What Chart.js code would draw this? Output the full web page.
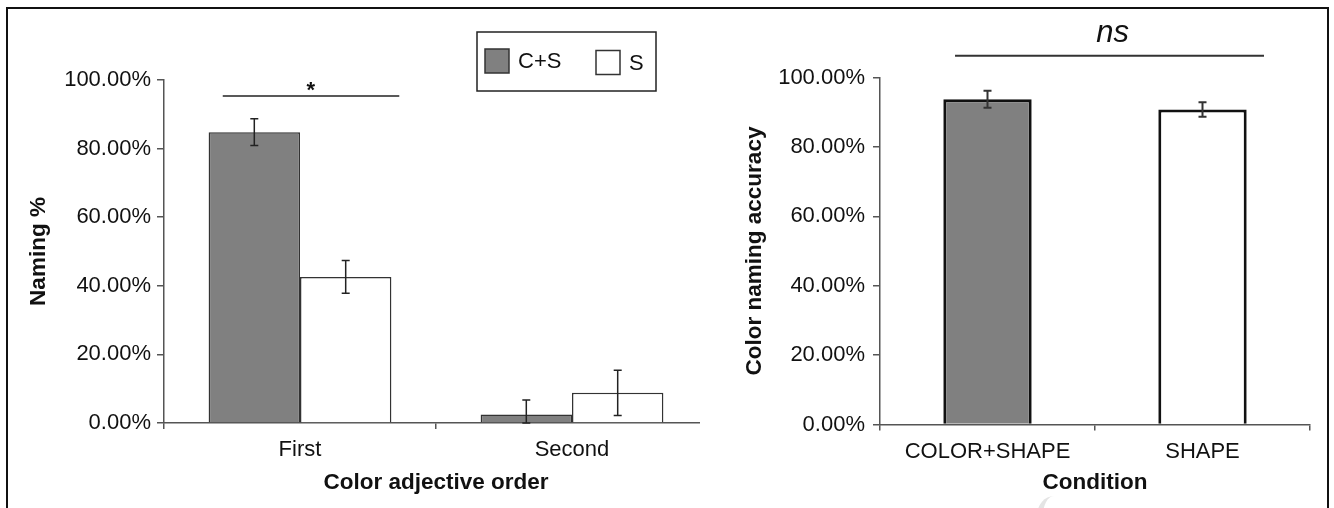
<!DOCTYPE html>
<html>
<head>
<meta charset="utf-8">
<script src="https://cdn.jsdelivr.net/npm/chart.js@4.4.1/dist/chart.umd.min.js"></script>
<style>
  html, body { margin: 0; padding: 0; background: #fff; }
  #page { position: relative; width: 1334px; height: 508px; overflow: hidden; background: #fff; }
  #leftWrap { position: absolute; left: 0; top: 0; width: 700px; height: 508px; overflow: hidden; }
  #rightWrap { position: absolute; left: 700px; top: 0; width: 634px; height: 508px; }
  #frame { position: absolute; left: 6px; top: 7px; width: 1323px; height: 540px;
           border: 2px solid #111; box-sizing: border-box; pointer-events: none; }
  #mark { position: absolute; left: 1037px; top: 496px; width: 34px; height: 40px;
          border-left: 6px solid #e4e4e4; border-radius: 50%; box-sizing: border-box; }
</style>
</head>
<body>
<div id="page">
  <div id="leftWrap"><canvas id="orderChart" width="708" height="508"></canvas></div>
  <div id="rightWrap"><canvas id="conditionChart" width="634" height="508"></canvas></div>
  <div id="mark"></div>
  <div id="frame"></div>
</div>
<script>
// ---- data ----
const orderCategories = ['First', 'Second'];
const seriesNames = ['C+S', 'S'];
const csNaming = [84.8, 2.5];
const csNamingErr = [3.9, 4.2];
const sNaming = [42.6, 8.8];
const sNamingErr = [4.8, 6.6];

const conditionCategories = ['COLOR+SHAPE', 'SHAPE'];
const accuracy = [93.7, 90.8];
const accuracyErr = [2.45, 2.1];

const percentTicks = ['0.00%', '20.00%', '40.00%', '60.00%', '80.00%', '100.00%'];

// ---- shared look ----
Chart.defaults.font.family = "'Liberation Sans', Arial, sans-serif";
Chart.defaults.color = '#111';
const GRAY = '#808080';
const WHITE = '#ffffff';

// Error bars: whiskers at value ± error, clipped at zero
const errorBarPlugin = {
  id: 'errorBars',
  afterDatasetsDraw(chart, args, opts) {
    const { ctx } = chart;
    const y = chart.scales.y;
    ctx.save();
    ctx.strokeStyle = opts.color;
    ctx.lineWidth = opts.width;
    chart.data.datasets.forEach((ds, di) => {
      if (!ds.errors) return;
      const meta = chart.getDatasetMeta(di);
      meta.data.forEach((bar, i) => {
        const v = ds.data[i], e = ds.errors[i];
        const top = y.getPixelForValue(v + e);
        const bot = y.getPixelForValue(Math.max(0, v - e));
        const x = bar.x;
        ctx.beginPath();
        ctx.moveTo(x, top); ctx.lineTo(x, bot);
        ctx.moveTo(x - opts.cap, top); ctx.lineTo(x + opts.cap, top);
        ctx.moveTo(x - opts.cap, bot); ctx.lineTo(x + opts.cap, bot);
        ctx.stroke();
      });
    });
    ctx.restore();
  }
};

// Significance bracket: a horizontal rule with a marker above it
const significancePlugin = {
  id: 'significance',
  afterDraw(chart, args, o) {
    if (!o.text) return;
    const { ctx } = chart;
    const { x, y } = chart.scales;
    const x0 = x.getPixelForValue(o.from), x1 = x.getPixelForValue(o.to);
    const ly = y.getPixelForValue(o.lineAt);
    ctx.save();
    ctx.strokeStyle = o.lineColor;
    ctx.lineWidth = o.lineWidth;
    ctx.beginPath();
    ctx.moveTo(x0, ly); ctx.lineTo(x1, ly);
    ctx.stroke();
    ctx.fillStyle = '#111';
    ctx.font = o.font;
    ctx.textAlign = 'center';
    ctx.textBaseline = 'alphabetic';
    ctx.fillText(o.text, x.getPixelForValue(o.textX), y.getPixelForValue(o.textAt));
    ctx.restore();
  }
};

// Boxed legend built from the dataset labels and fills
const boxLegendPlugin = {
  id: 'boxLegend',
  afterDraw(chart, args, o) {
    if (!o.display) return;
    const { ctx } = chart;
    ctx.save();
    ctx.strokeStyle = '#222';
    ctx.lineWidth = 1.5;
    ctx.strokeRect(o.left, o.top, o.width, o.height);
    ctx.font = o.font;
    ctx.textBaseline = 'middle';
    ctx.textAlign = 'left';
    chart.data.datasets.forEach((ds, i) => {
      const item = o.items[i];
      ctx.fillStyle = ds.backgroundColor;
      ctx.fillRect(item.x, item.y, o.swatch, o.swatch);
      ctx.strokeStyle = '#333';
      ctx.lineWidth = 1.5;
      ctx.strokeRect(item.x, item.y, o.swatch, o.swatch);
      ctx.fillStyle = '#111';
      ctx.fillText(ds.label, item.x + o.swatch + 9, item.y + o.swatch / 2 + 1);
    });
    ctx.restore();
  }
};

function percentAxis(titleText, titlePad, tickPad, width) {
  return {
    min: 0, max: 100,
    ticks: { stepSize: 20, padding: tickPad, color: '#111', font: { size: 22 },
             callback: (v, i) => percentTicks[i] },
    grid: { drawOnChartArea: false, drawTicks: true, tickLength: 7, color: '#555', lineWidth: 1.5 },
    border: { display: true, color: '#555', width: 1.5 },
    title: { display: true, text: titleText, color: '#111',
             font: { size: 22.5, weight: 'bold' }, padding: { top: titlePad, bottom: 0 } },
    afterFit: s => { s.width = width; }
  };
}

function categoryAxis(titleText, titlePad, height) {
  return {
    ticks: { padding: 8, color: '#111', font: { size: 22 } },
    grid: { drawOnChartArea: false, drawTicks: true, tickLength: 6, color: '#555', lineWidth: 1.5, offset: true },
    border: { display: true, color: '#555', width: 1.5 },
    title: { display: true, text: titleText, color: '#111',
             font: { size: 22.5, weight: 'bold' }, padding: { top: 0, bottom: titlePad } },
    afterFit: s => { s.height = height; }
  };
}

// ---- left panel: naming % by colour adjective order ----
new Chart(document.getElementById('orderChart'), {
  type: 'bar',
  data: {
    labels: orderCategories,
    datasets: [
      { label: seriesNames[0], data: csNaming, errors: csNamingErr,
        backgroundColor: GRAY, borderColor: '#333', borderWidth: 1.5,
        categoryPercentage: 0.672, barPercentage: 1 },
      { label: seriesNames[1], data: sNaming, errors: sNamingErr,
        backgroundColor: WHITE, borderColor: '#333', borderWidth: 1.5,
        categoryPercentage: 0.672, barPercentage: 1 }
    ]
  },
  options: {
    responsive: false,
    animation: false,
    layout: { padding: { top: 80, right: 0, bottom: 0, left: 0 } },
    scales: {
      x: categoryAxis('Color adjective order', 11.5, 85),
      y: percentAxis('Naming %', 25.5, 6, 164)
    },
    plugins: {
      legend: { display: false },
      tooltip: { enabled: false },
      errorBars: { color: '#222', width: 1.5, cap: 4 },
      significance: { text: '*', from: -0.284, to: 0.365, textX: 0.04,
                      lineAt: 95.3, textAt: 95.0, lineColor: '#222', lineWidth: 1.5,
                      font: "bold 22px 'Liberation Sans', Arial, sans-serif" },
      boxLegend: { display: true, left: 477, top: 32, width: 179, height: 59, swatch: 24,
                   font: "22px 'Liberation Sans', Arial, sans-serif",
                   items: [{ x: 485, y: 49 }, { x: 596, y: 50.5 }] }
    }
  },
  plugins: [errorBarPlugin, significancePlugin, boxLegendPlugin]
});

// ---- right panel: colour naming accuracy by condition ----
new Chart(document.getElementById('conditionChart'), {
  type: 'bar',
  data: {
    labels: conditionCategories,
    datasets: [
      { label: 'Accuracy', data: accuracy, errors: accuracyErr,
        backgroundColor: [GRAY, WHITE], borderColor: '#111', borderWidth: 3,
        categoryPercentage: 1, barPercentage: 0.411 }
    ]
  },
  options: {
    responsive: false,
    animation: false,
    layout: { padding: { top: 77.5, right: 24, bottom: 0, left: 0 } },
    scales: {
      x: categoryAxis('Condition', 12, 83.5),
      y: percentAxis('Color naming accuracy', 41.5, 8, 180)
    },
    plugins: {
      legend: { display: false },
      tooltip: { enabled: false },
      errorBars: { color: '#333', width: 2, cap: 4 },
      significance: { text: 'ns', from: -0.151, to: 1.286, textX: 0.582,
                      lineAt: 106.3, textAt: 110.3, lineColor: '#333', lineWidth: 2,
                      font: "italic 31px 'Liberation Sans', Arial, sans-serif" },
      boxLegend: { display: false }
    }
  },
  plugins: [errorBarPlugin, significancePlugin, boxLegendPlugin]
});
</script>
</body>
</html>
